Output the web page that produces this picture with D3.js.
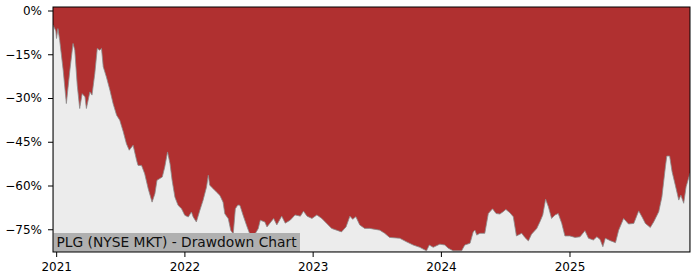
<!DOCTYPE html>
<html>
<head>
<meta charset="utf-8">
<script src="https://cdn.jsdelivr.net/npm/d3@7"></script>
<style>
    body { margin: 0; background: #ffffff; }
    text { font-family: "DejaVu Sans", sans-serif; }
</style>
</head>
<body>
<script>
// Drawdown of PLG (percent below peak)
var dates = [
    "2020-12-23", "2020-12-31", "2021-01-02", "2021-01-06", "2021-01-11",
    "2021-01-21", "2021-01-30", "2021-02-09", "2021-02-18", "2021-02-23",
    "2021-03-02", "2021-03-09", "2021-03-16", "2021-03-24", "2021-03-28",
    "2021-04-07", "2021-04-13", "2021-04-21", "2021-04-28", "2021-05-05",
    "2021-05-10", "2021-05-15", "2021-05-24", "2021-06-03", "2021-06-12",
    "2021-06-22", "2021-07-01", "2021-07-11", "2021-07-20", "2021-07-28",
    "2021-08-08", "2021-08-18", "2021-08-22", "2021-09-01", "2021-09-10",
    "2021-09-20", "2021-10-01", "2021-10-09", "2021-10-15", "2021-10-30",
    "2021-11-06", "2021-11-14", "2021-11-21", "2021-11-27", "2021-12-05",
    "2021-12-14", "2021-12-24", "2022-01-02", "2022-01-12", "2022-01-21",
    "2022-01-26", "2022-02-04", "2022-02-14", "2022-02-23", "2022-03-05",
    "2022-03-10", "2022-03-14", "2022-03-24", "2022-04-02", "2022-04-12",
    "2022-04-21", "2022-04-26", "2022-05-06", "2022-05-13", "2022-05-20",
    "2022-05-26", "2022-06-02", "2022-06-08", "2022-06-17", "2022-06-27",
    "2022-07-06", "2022-07-21", "2022-07-30", "2022-08-05", "2022-08-18",
    "2022-08-24", "2022-09-12", "2022-09-21", "2022-10-05", "2022-10-15",
    "2022-10-29", "2022-11-12", "2022-11-27", "2022-12-06", "2022-12-16",
    "2022-12-30", "2023-01-13", "2023-01-27", "2023-02-10", "2023-02-24",
    "2023-03-10", "2023-03-24", "2023-04-06", "2023-04-17", "2023-04-25",
    "2023-05-04", "2023-05-15", "2023-05-29", "2023-06-12", "2023-07-11",
    "2023-07-25", "2023-08-08", "2023-09-06", "2023-09-25", "2023-10-14",
    "2023-11-02", "2023-11-21", "2023-11-29", "2023-12-10", "2023-12-29",
    "2024-01-12", "2024-01-22", "2024-02-05", "2024-02-29", "2024-03-09",
    "2024-03-24", "2024-04-02", "2024-04-07", "2024-04-12", "2024-04-21",
    "2024-05-05", "2024-05-15", "2024-05-27", "2024-06-06", "2024-06-17",
    "2024-06-26", "2024-07-04", "2024-07-15", "2024-07-25", "2024-08-03",
    "2024-08-18", "2024-08-27", "2024-09-06", "2024-09-15", "2024-09-30",
    "2024-10-09", "2024-10-17", "2024-10-25", "2024-11-02", "2024-11-11",
    "2024-11-21", "2024-11-30", "2024-12-10", "2024-12-19", "2025-01-02",
    "2025-01-17", "2025-01-31", "2025-02-14", "2025-02-24", "2025-03-10",
    "2025-03-20", "2025-03-29", "2025-04-06", "2025-04-13", "2025-04-27",
    "2025-05-12", "2025-05-21", "2025-06-04", "2025-06-18", "2025-07-03",
    "2025-07-17", "2025-07-27", "2025-08-05", "2025-08-19", "2025-08-29",
    "2025-09-12", "2025-09-21", "2025-10-01", "2025-10-05", "2025-10-13",
    "2025-10-20", "2025-10-29", "2025-11-08", "2025-11-14", "2025-11-22",
    "2025-11-29", "2025-12-10"
];

var drawdown = [
    -5.0, -7.0, -9.6, -6.2, -10.2,
    -20.5, -31.9, -20.5, -11.3, -13.6,
    -25.6, -33.6, -28.5, -29.6, -33.6,
    -27.9, -29.0, -21.6, -13.0, -13.6,
    -13.0, -19.3, -22.8, -27.3, -31.9,
    -35.9, -37.6, -41.6, -45.7, -47.9,
    -46.2, -51.4, -53.1, -53.1, -56.0,
    -61.1, -65.7, -62.8, -58.2, -57.1,
    -53.7, -48.5, -52.5, -58.2, -64.0,
    -66.8, -68.0, -70.2, -70.8, -69.1,
    -70.8, -72.5, -68.5, -65.1, -60.5,
    -56.5, -59.9, -61.1, -62.2, -63.4,
    -65.7, -69.7, -71.4, -75.4, -76.6,
    -68.0, -66.7, -66.8, -70.2, -73.7,
    -76.6, -76.6, -74.8, -71.9, -72.5,
    -74.2, -71.3, -73.5, -70.5, -72.9,
    -71.9, -70.1, -70.5, -68.8, -70.5,
    -71.3, -70.1, -71.3, -73.0, -74.7,
    -75.3, -75.9, -74.2, -70.5, -71.6,
    -70.7, -73.5, -74.7, -74.7, -75.3,
    -76.4, -77.8, -78.1, -79.3, -80.4,
    -81.2, -82.4, -80.4, -81.2, -80.1,
    -80.4, -81.5, -82.4, -82.4, -80.4,
    -79.8, -75.9, -75.3, -77.0, -76.4,
    -76.4, -69.6, -68.0, -69.6, -69.8,
    -69.0, -68.2, -69.3, -70.7, -77.3,
    -76.4, -77.8, -79.0, -76.7, -74.7,
    -72.4, -70.1, -64.7, -67.3, -71.3,
    -70.1, -69.6, -73.0, -77.3, -77.3,
    -77.8, -77.6, -75.5, -78.1, -78.7,
    -77.6, -78.5, -81.0, -78.1, -78.9,
    -79.6, -75.3, -71.3, -73.2, -73.0,
    -68.7, -70.9, -73.0, -74.4, -72.4,
    -69.0, -63.9, -53.6, -49.9, -49.9,
    -55.3, -59.8, -65.0, -63.3, -66.1,
    -60.4, -55.8
];

var yTicks = [0, -15, -30, -45, -60, -75];
var xTicks = ["2021-01-01", "2022-01-01", "2023-01-01", "2024-01-01",
              "2025-01-01"];
var title = "PLG (NYSE MKT) - Drawdown Chart";

// Margins around the plot box
var margin = {top: 7, right: 10, bottom: 28, left: 53},
    width = 700 - margin.left - margin.right,
    height = 280 - margin.top - margin.bottom;

var svg = d3.select("body").append("svg")
    .attr("width", 700)
    .attr("height", 280)
    .append("g")
    .attr("transform", "translate(" + margin.left + "," + margin.top + ")");

var parse = d3.utcParse("%Y-%m-%d");
var data = dates.map(function(d, i) {
    return {date: parse(d), dd: drawdown[i]};
});

var xScale = d3.scaleUtc()
    .domain(d3.extent(data, function(d) { return d.date; }))
    .range([0, width]);

var yScale = d3.scaleLinear()
    .domain([-82.8, 1.2])
    .range([height, 0]);

svg.append("clipPath").attr("id", "plot-clip")
    .append("rect")
    .attr("width", width)
    .attr("height", height);

// red background = the drawdown area above the curve
svg.append("rect")
    .attr("width", width)
    .attr("height", height)
    .attr("fill", "#b03030");

// light grey fill below the curve
var area = d3.area()
    .x(function(d) { return xScale(d.date); })
    .y0(height)
    .y1(function(d) { return yScale(d.dd); });

svg.append("path")
    .datum(data)
    .attr("clip-path", "url(#plot-clip)")
    .attr("d", area)
    .attr("fill", "#ececec")
    .attr("stroke", "#8c8c8c")
    .attr("stroke-width", 0.8);

// title box in the lower left corner
svg.append("rect")
    .attr("x", 0)
    .attr("y", height - 19)
    .attr("width", 247)
    .attr("height", 19)
    .attr("fill", "#b0b0b0");

svg.append("text")
    .attr("x", 3.5)
    .attr("y", height - 4.8)
    .attr("font-size", "13.8px")
    .attr("fill", "#111")
    .text(title);

// axes
var yAxis = d3.axisLeft(yScale)
    .tickValues(yTicks)
    .tickSize(5)
    .tickPadding(6)
    .tickFormat(function(d) {
        return (d < 0 ? "\u2212" : "") + Math.abs(d) + "%";
    });

var xAxis = d3.axisBottom(xScale)
    .tickValues(xTicks.map(parse))
    .tickSize(5)
    .tickPadding(5)
    .tickFormat(d3.utcFormat("%Y"));

var gy = svg.append("g")
    .attr("class", "y axis")
    .call(yAxis);

var gx = svg.append("g")
    .attr("class", "x axis")
    .attr("transform", "translate(0," + height + ")")
    .call(xAxis);

[gx, gy].forEach(function(g) {
    g.select(".domain").remove();
    g.selectAll("text")
        .attr("font-family", "DejaVu Sans, sans-serif")
        .attr("font-size", "12px")
        .attr("fill", "#000");
    g.selectAll("line").attr("stroke", "#000");
});

// plot frame
svg.append("rect")
    .attr("width", width)
    .attr("height", height)
    .attr("fill", "none")
    .attr("stroke", "#000")
    .attr("stroke-width", 1);
</script>
</body>
</html>
